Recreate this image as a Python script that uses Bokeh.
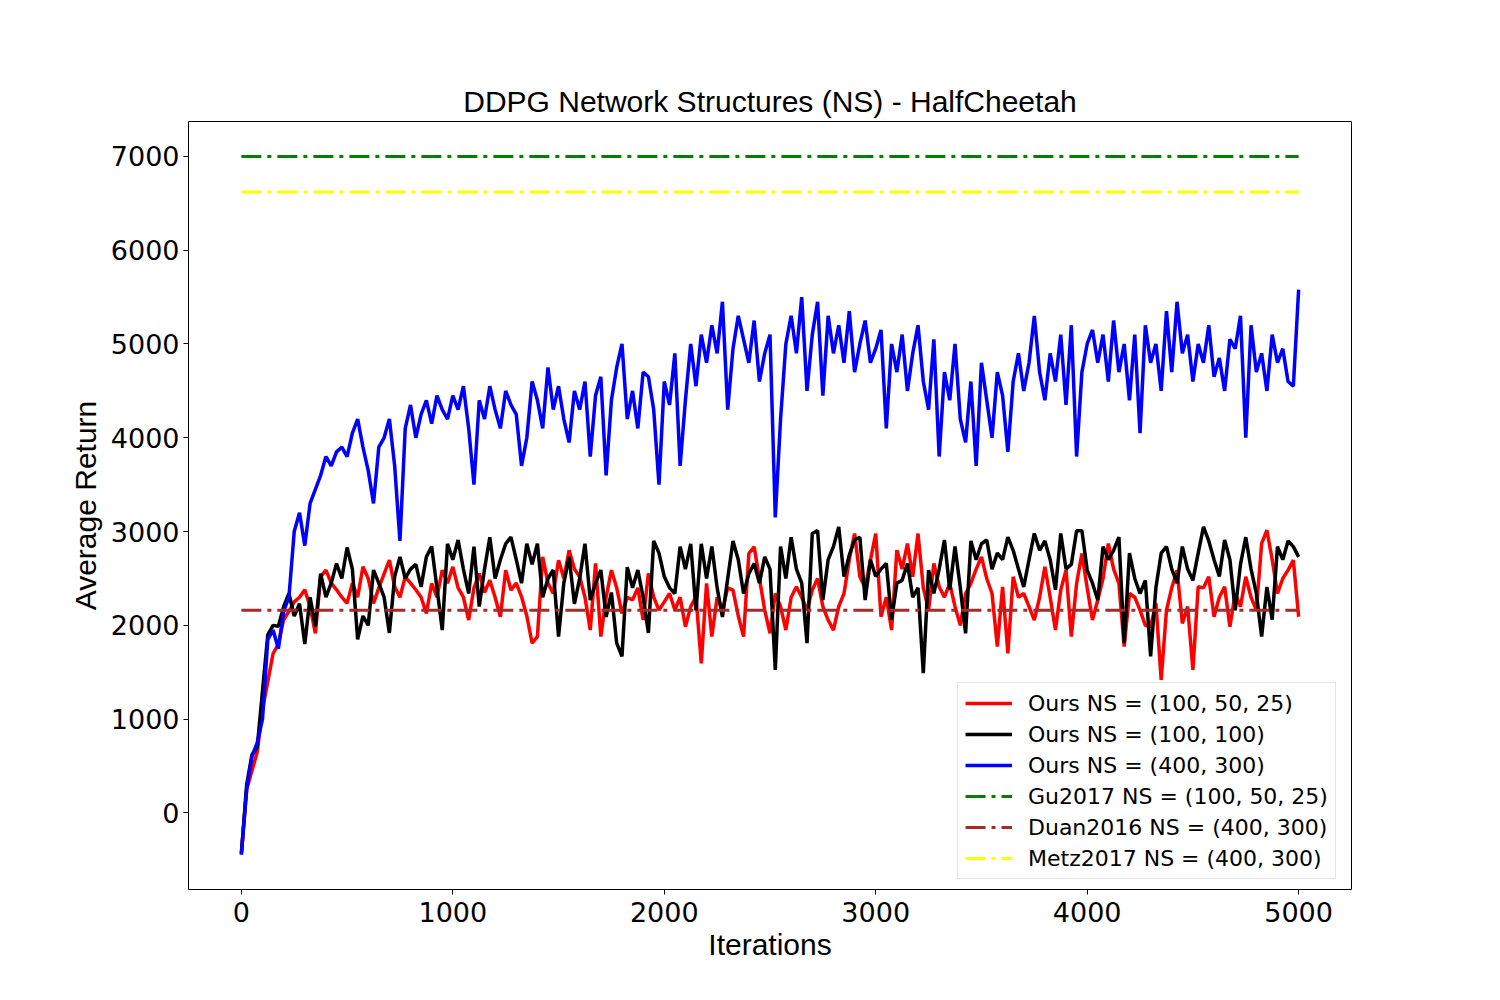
from bokeh.plotting import figure
from bokeh.models import Range1d, FixedTicker, Legend, LegendItem
from bokeh.embed import file_html
from bokeh.resources import INLINE

# ---------------- data ----------------
STEP = 25  # iterations between samples

ours_100_50_25 = [
    -420, 250, 450, 650, 1100, 1400, 1700, 1800, 2060, 2150,
    2250, 2300, 2380, 2200, 1915, 2520, 2590, 2450, 2380, 2300,
    2234, 2450, 2300, 2625, 2500, 2234, 2400, 2550, 2695, 2411,
    2300, 2518, 2450, 2380, 2300, 2128, 2447, 2300, 2589, 2450,
    2624, 2400, 2300, 2057, 2400, 2553, 2350, 2482, 2300, 2092,
    2589, 2376, 2450, 2305, 2100, 1809, 1880, 2730, 2450, 2340,
    2695, 2500, 2801, 2600, 2518, 2300, 1950, 2660, 1880, 2300,
    2589, 2400, 2128, 2300, 2270, 2400, 2057, 2553, 2300, 2163,
    2250, 2340, 2163, 2300, 1986, 2200, 2305, 1596, 2447, 1880,
    2300, 2163, 2400, 2376, 2100, 1880, 2766, 2837, 2500, 2163,
    1915, 2340, 2200, 1950, 2300, 2411, 2300, 2163, 2376, 2500,
    2200, 2057, 1950, 2200, 2340, 2700, 2979, 2518, 2400, 2695,
    2979, 2092, 2300, 1950, 2801, 2600, 2872, 2518, 2979, 2400,
    2163, 2660, 2411, 2300, 2447, 2200, 2000, 2340, 2447, 2600,
    2730, 2500, 2340, 1773, 2411, 1702, 2518, 2300, 2340, 2200,
    2057, 2300, 2624, 2300, 1950, 2376, 2589, 1880, 2447, 2766,
    2400, 2057, 2270, 2500, 2872, 2600, 2447, 1773, 2340, 2300,
    2163, 2000, 1986, 2234, 1418, 2163, 2400, 2589, 2021, 2200,
    1525, 2411, 2400, 2518, 2092, 2300, 2411, 1986, 2340, 2200,
    2518, 2300, 2163, 2872, 3014, 2700, 2340, 2500, 2589, 2695,
    2092,
]

ours_100_100 = [
    -445, 300, 620, 700, 1300, 1900, 2000, 1990, 2200, 2340,
    2100, 2230, 1800, 2300, 1990, 2550, 2300, 2450, 2660, 2500,
    2830, 2600, 1850, 2100, 2000, 2590, 2450, 2300, 1920, 2520,
    2730, 2500, 2600, 2650, 2410, 2730, 2840, 2400, 1950, 2870,
    2700, 2910, 2600, 2340, 2840, 2200, 2600, 2940, 2500, 2700,
    2870, 2940, 2700, 2450, 2870, 2650, 2870, 2300, 2500, 2590,
    1880, 2450, 2730, 2230, 2500, 2870, 2270, 2450, 2590, 2090,
    2350, 1810, 1670, 2620, 2400, 2590, 2300, 1920, 2900, 2770,
    2520, 2400, 2340, 2840, 2600, 2870, 2160, 2870, 2500, 2840,
    2400, 2090, 2500, 2900, 2700, 2340, 2550, 2660, 2450, 2730,
    2600, 1525, 2840, 2500, 2940, 2600, 2450, 1810, 2980, 3010,
    2270, 2700, 2840, 3050, 2520, 2750, 2910, 2940, 2270, 2700,
    2520, 2600, 2660, 2060, 2450, 2480, 2660, 2300, 2400, 1490,
    2590, 2340, 2600, 2910, 2380, 2840, 2400, 1915, 2900, 2700,
    2870, 2910, 2600, 2770, 2700, 2940, 2800, 2600, 2410, 2700,
    2980, 2800, 2900, 2700, 2380, 2980, 2600, 2650, 3010, 3010,
    2590, 2450, 2270, 2840, 2700, 2800, 2940, 1810, 2770, 2500,
    2340, 2480, 1670, 2400, 2770, 2840, 2600, 2450, 2840, 2600,
    2480, 2770, 3050, 2900, 2700, 2520, 2910, 2700, 2160, 2650,
    2940, 2600, 2340, 1880, 2410, 2060, 2840, 2700, 2900, 2840,
    2730,
]

ours_400_300 = [
    -440, 250, 600, 750, 1000, 1850, 1950, 1750, 2150, 2300,
    3000, 3200, 2850, 3300, 3450, 3600, 3800, 3700, 3850, 3900,
    3800, 4050, 4200, 3900, 3650, 3300, 3900, 4000, 4200, 3700,
    2900, 4100, 4350, 4000, 4250, 4400, 4150, 4450, 4300, 4200,
    4450, 4300, 4550, 4100, 3500, 4400, 4200, 4550, 4300, 4100,
    4500, 4350, 4250, 3700, 4000, 4600, 4400, 4100, 4750, 4300,
    4550, 4200, 3950, 4500, 4300, 4600, 3800, 4450, 4650, 3600,
    4400, 4750, 5000, 4200, 4500, 4100, 4700, 4650, 4300, 3500,
    4600, 4350, 4900, 3700, 4400, 5000, 4550, 5100, 4800, 5200,
    4900, 5450, 4300, 4950, 5300, 5050, 4800, 5250, 4600, 4900,
    5100, 3150, 4200, 5000, 5300, 4900, 5500, 4500, 5100, 5450,
    4450, 5300, 4900, 5200, 4800, 5350, 4700, 5000, 5250, 4800,
    4950, 5150, 4100, 5000, 4700, 5100, 4500, 4900, 5200, 4600,
    4300, 5050, 3800, 4700, 4400, 5000, 4200, 3950, 4600, 3700,
    4800, 4400, 4000, 4700, 4450, 3850, 4600, 4900, 4500, 4800,
    5300, 4700, 4400, 4900, 4600, 5100, 4350, 5200, 3800, 4700,
    5000, 5150, 4800, 5100, 4600, 5250, 4700, 5000, 4400, 5100,
    4050, 5200, 4800, 5000, 4500, 5350, 4700, 5450, 4900, 5100,
    4600, 5000, 4800, 5200, 4650, 4850, 4500, 5050, 4950, 5300,
    4000, 5200, 4700, 4900, 4500, 5100, 4800, 4950, 4600, 4550,
    5580,
]

iterations = [i * STEP for i in range(len(ours_400_300))]

# baselines (constant reported returns)
baseline_x = [0, 5000]
gu2017 = 7000
duan2016 = 2160
metz2017 = 6620

labels = [
    "Ours NS = (100, 50, 25)",
    "Ours NS = (100, 100)",
    "Ours NS = (400, 300)",
    "Gu2017 NS = (100, 50, 25)",
    "Duan2016 NS = (400, 300)",
    "Metz2017 NS = (400, 300)",
]
x_ticks = [0, 1000, 2000, 3000, 4000, 5000]
y_ticks = [0, 1000, 2000, 3000, 4000, 5000, 6000, 7000]

# ---------------- figure ----------------
p = figure(
    frame_width=1163, frame_height=768,
    min_border_left=188, min_border_right=133,
    min_border_top=121, min_border_bottom=95,
    x_range=Range1d(-250, 5250), y_range=Range1d(-816, 7372),
    output_backend="svg", toolbar_location=None,
    title="DDPG Network Structures (NS) - HalfCheetah",
)
p.background_fill_color = "white"
p.border_fill_color = "white"
p.outline_line_color = "black"
p.outline_line_width = 1
p.xgrid.visible = False
p.ygrid.visible = False

p.title.align = "center"
p.title.text_font = "Liberation Sans"
p.title.text_font_size = "30px"
p.title.text_font_style = "normal"
p.title.text_color = "black"
p.title.standoff = 7

for ax in (p.xaxis[0], p.yaxis[0]):
    ax.axis_line_color = None
    ax.major_tick_line_color = "black"
    ax.major_tick_in = 0
    ax.major_tick_out = 5
    ax.minor_tick_line_color = None
    ax.major_label_text_font = "DejaVu Sans"
    ax.major_label_text_font_size = "27px"
    ax.major_label_text_color = "black"
    ax.axis_label_text_font = "Liberation Sans"
    ax.axis_label_text_font_size = "30px"
    ax.axis_label_text_font_style = "normal"
    ax.axis_label_text_color = "black"

p.xaxis.ticker = FixedTicker(ticks=x_ticks)
p.yaxis.ticker = FixedTicker(ticks=y_ticks)
p.xaxis.axis_label = "Iterations"
p.yaxis.axis_label = "Average Return"
p.xaxis.major_label_standoff = 7
p.xaxis.axis_label_standoff = 3
p.yaxis.major_label_standoff = 4
p.yaxis.axis_label_standoff = 6

LW = 3.5
r_red = p.line(iterations, ours_100_50_25, line_color="red", line_width=LW)
r_black = p.line(iterations, ours_100_100, line_color="black", line_width=LW)
r_blue = p.line(iterations, ours_400_300, line_color="blue", line_width=LW)

dash = "20 6 4 6"
r_gu = p.line(baseline_x, [gu2017] * 2, line_color="green", line_width=3, line_dash=dash)
r_duan = p.line(baseline_x, [duan2016] * 2, line_color="#a52a2a", line_width=3, line_dash=dash)
r_metz = p.line(baseline_x, [metz2017] * 2, line_color="yellow", line_width=3, line_dash=dash)

items = [LegendItem(label=l, renderers=[r]) for l, r in
         zip(labels, [r_red, r_black, r_blue, r_gu, r_duan, r_metz])]
legend = Legend(
    items=items, location=(769, 10), margin=0,
    padding=7, spacing=5,
    label_text_font="DejaVu Sans", label_text_font_size="22px",
    label_text_color="black",
    label_height=26, glyph_height=26, glyph_width=47, label_standoff=16,
    border_line_color="#cccccc", border_line_width=1,
    background_fill_color="white", background_fill_alpha=0.8,
)
p.add_layout(legend, "center")

open("out.html", "w").write(file_html(p, INLINE))
